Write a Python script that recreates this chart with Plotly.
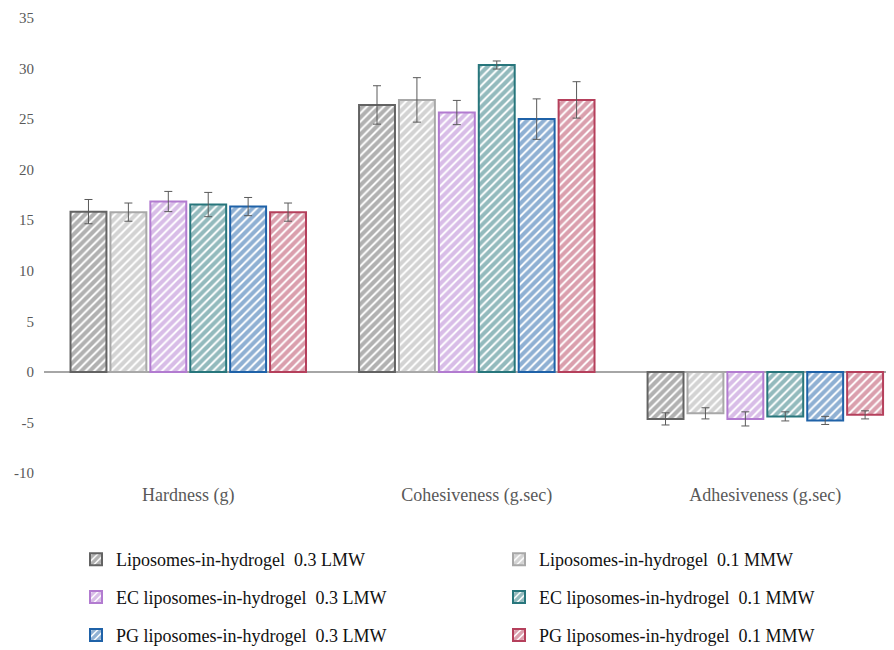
import plotly.graph_objects as go

categories = ["Hardness (g)", "Cohesiveness (g.sec)", "Adhesiveness (g.sec)"]

series_names = [
    "Liposomes-in-hydrogel\u00a0 0.3 LMW",
    "Liposomes-in-hydrogel\u00a0 0.1 MMW",
    "EC liposomes-in-hydrogel\u00a0 0.3 LMW",
    "EC liposomes-in-hydrogel\u00a0 0.1 MMW",
    "PG liposomes-in-hydrogel\u00a0 0.3 LMW",
    "PG liposomes-in-hydrogel\u00a0 0.1 MMW",
]

lip_03_lmw = [15.85, 26.4, -4.65]
lip_01_mmw = [15.8, 26.9, -4.1]
ec_03_lmw = [16.85, 25.65, -4.65]
ec_01_mmw = [16.55, 30.35, -4.4]
pg_03_lmw = [16.35, 25.0, -4.8]
pg_01_mmw = [15.8, 26.9, -4.25]

lip_03_lmw_err = [1.2, 1.9, 0.6]
lip_01_mmw_err = [0.9, 2.2, 0.55]
ec_03_lmw_err = [1.0, 1.2, 0.7]
ec_01_mmw_err = [1.2, 0.4, 0.45]
pg_03_lmw_err = [0.9, 2.0, 0.4]
pg_01_mmw_err = [0.9, 1.8, 0.4]

values = [lip_03_lmw, lip_01_mmw, ec_03_lmw, ec_01_mmw, pg_03_lmw, pg_01_mmw]
errors = [lip_03_lmw_err, lip_01_mmw_err, ec_03_lmw_err, ec_01_mmw_err, pg_03_lmw_err, pg_01_mmw_err]
colors = ["#636363", "#a8a8a8", "#b27bd0", "#28767c", "#1f62a8", "#b5405c"]
legend_ids = ["legend", "legend2", "legend", "legend2", "legend", "legend2"]

FONT = "Liberation Serif"

fig = go.Figure()
for i, (name, vals, errs, c, lg) in enumerate(zip(series_names, values, errors, colors, legend_ids)):
    fig.add_trace(go.Bar(
        name=name,
        x=categories,
        y=vals,
        legend=lg,
        legendgroup="g%d" % i,
        error_y=dict(type="data", array=errs, visible=True, color="#5a5a5a", thickness=1, width=4),
        marker=dict(
            color="white",
            line=dict(color=c, width=2),
            pattern=dict(shape="/", fgcolor=c, bgcolor="white", size=6, solidity=0.68),
        ),
    ))

# page is offset by the default 8px body margin
OFF = 8
W, H = 894 - OFF, 650 - OFF
L, R, T = 44 - OFF, 0, 18 - OFF
B = H - (473 - OFF)
plot_w = W - L - R
plot_h = H - T - B

def ly(px):
    return (H - B - (px - OFF)) / plot_h

def lx(px):
    return (px - OFF - L) / plot_w

leg_common = dict(
    orientation="v",
    xanchor="left",
    yanchor="top",
    y=ly(541),
    font=dict(family=FONT, size=18, color="#111111"),
    bgcolor="rgba(0,0,0,0)",
    tracegroupgap=11.5,
    itemclick=False,
)

fig.update_layout(
    width=W,
    height=H,
    margin=dict(l=L, r=R, t=T, b=B, autoexpand=False),
    paper_bgcolor="white",
    plot_bgcolor="white",
    barmode="group",
    bargap=0.17,
    bargroupgap=0.1,
    font=dict(family=FONT),
    legend=dict(x=lx(76), **leg_common),
    legend2=dict(x=lx(499), **leg_common),
    xaxis=dict(
        range=[-0.5, 2.446],
        automargin=False,
        showgrid=False,
        showline=False,
        zeroline=False,
        ticks="",
        ticklabelstandoff=9,
        tickfont=dict(family=FONT, size=18, color="#595959"),
    ),
    yaxis=dict(
        range=[-10, 35],
        automargin=False,
        tickmode="array",
        tickvals=[-10, -5, 0, 5, 10, 15, 20, 25, 30, 35],
        ticktext=["-10", "-5", "0", "5", "10", "15", "20", "25", "30", "35"],
        showgrid=False,
        showline=False,
        zeroline=True,
        zerolinecolor="#a6a6a6",
        zerolinewidth=1.5,
        ticks="",
        ticklabelstandoff=9,
        tickfont=dict(family=FONT, size=15, color="#595959"),
    ),
)

fig.write_html("out.html")
